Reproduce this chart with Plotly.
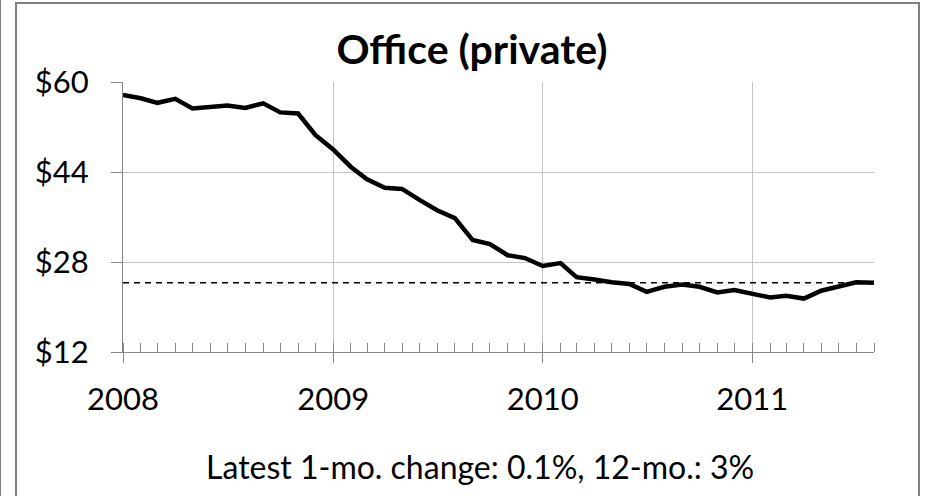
import plotly.graph_objects as go
import pandas as pd

# -------------------------------------------------
# DATA
# -------------------------------------------------
months = pd.date_range("2008-01-01", periods=44, freq="MS")

price = [
    57.7, 57.1, 56.3, 57.0, 55.3, 55.6, 55.8, 55.4, 56.2, 54.6, 54.4, 50.6,
    48.0, 44.9, 42.7, 41.2, 41.0, 39.0, 37.2, 35.8, 31.9, 31.2, 29.2, 28.7,
    27.3, 27.8, 25.3, 24.9, 24.4, 24.1, 22.7, 23.6, 24.0, 23.6, 22.6, 23.0,
    22.3, 21.7, 22.0, 21.5, 22.9, 23.7, 24.4, 24.3,
]

latest_level = 24.3
y_ticks = [12, 28, 44, 60]
y_tick_labels = ["$12", "$28", "$44", "$60"]

title_text = "Office (private)"
note_text = "Latest 1-mo. change: 0.1%, 12-mo.: 3%"

FONT = "Lato, 'Open Sans', sans-serif"
AXIS_GRAY = "#868686"
GRID_GRAY = "#c4c4c4"

# -------------------------------------------------
# FIGURE
# -------------------------------------------------
fig = go.Figure()

fig.add_trace(
    go.Scatter(
        x=[months[0], months[-1]],
        y=[latest_level, latest_level],
        mode="lines",
        line=dict(color="black", width=1.5, dash="6px,5px"),
        hoverinfo="skip",
    )
)

fig.add_trace(
    go.Scatter(
        x=months,
        y=price,
        mode="lines",
        line=dict(color="black", width=4.5),
    )
)

fig.update_layout(
    width=928,
    height=496,
    showlegend=False,
    paper_bgcolor="white",
    plot_bgcolor="white",
    font=dict(family=FONT, color="black", size=30),
    margin=dict(l=123, r=54, t=82, b=144),
    title=dict(
        text="<b>" + title_text + "</b>",
        font=dict(size=41, family=FONT, color="black"),
        x=472 / 928,
        xref="container",
        xanchor="center",
        y=1 - 50 / 496,
        yref="container",
        yanchor="middle",
    ),
)

fig.update_xaxes(
    range=[months[0], months[-1]],
    tickformat="%Y",
    dtick="M12",
    tick0="2008-01-01",
    ticks="outside",
    ticklen=10,
    tickcolor=AXIS_GRAY,
    ticklabelstandoff=10,
    showline=True,
    linecolor=AXIS_GRAY,
    linewidth=1,
    showgrid=True,
    gridcolor=GRID_GRAY,
    zeroline=False,
    tickfont=dict(size=31),
    minor=dict(
        dtick="M1",
        tick0="2008-01-01",
        ticks="inside",
        ticklen=9,
        tickcolor=AXIS_GRAY,
        showgrid=False,
    ),
)

fig.update_yaxes(
    range=[12, 60],
    tickvals=y_ticks,
    ticktext=y_tick_labels,
    ticks="outside",
    ticklen=11,
    tickcolor=AXIS_GRAY,
    ticklabelstandoff=16,
    showline=True,
    linecolor=AXIS_GRAY,
    linewidth=1,
    showgrid=True,
    gridcolor=GRID_GRAY,
    zeroline=False,
    tickfont=dict(size=31),
)

# note under the axis
fig.add_annotation(
    text=note_text,
    xref="paper",
    yref="paper",
    x=(480 - 123) / 751,
    y=(352 - 466) / 270,
    xanchor="center",
    yanchor="middle",
    showarrow=False,
    font=dict(size=32),
)

# chart frame (Excel-style border)
fig.add_shape(
    type="rect",
    xref="paper",
    yref="paper",
    x0=(16 - 123) / 751,
    x1=(919 - 123) / 751,
    y0=(352 - 510) / 270,
    y1=(352 - 3) / 270,
    line=dict(color="#808080", width=2),
    layer="below",
)
fig.add_shape(
    type="line",
    xref="paper",
    yref="paper",
    x0=(0.5 - 123) / 751,
    x1=(0.5 - 123) / 751,
    y0=(352 - 510) / 270,
    y1=(352 + 10) / 270 + 1.5,
    line=dict(color="#808080", width=1),
)

# page body has an 8px default margin; drop it so the figure sits at 0,0
fig.write_html(
    "out.html",
    config={"displayModeBar": False},
    post_script="document.body.style.margin='0';",
)
